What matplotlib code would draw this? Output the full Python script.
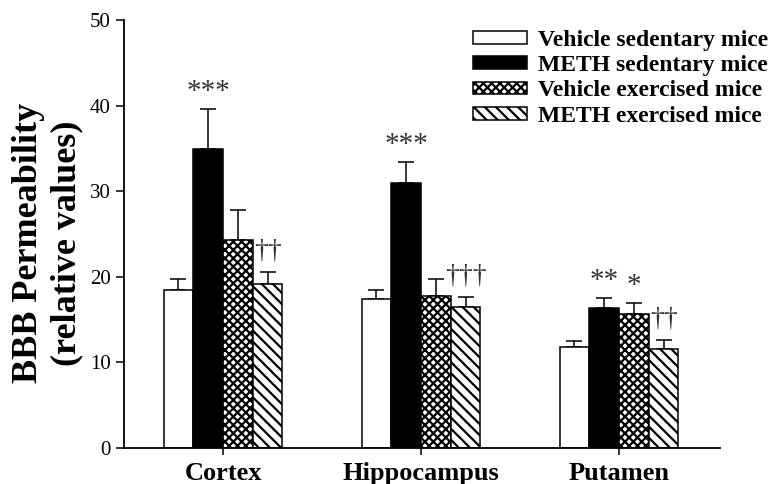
import numpy as np
import matplotlib
matplotlib.use('Agg')
import matplotlib.pyplot as plt

plt.rcParams['font.family'] = ['Liberation Serif', 'DejaVu Serif']
plt.rcParams['hatch.linewidth'] = 1.6

regions = ['Cortex', 'Hippocampus', 'Putamen']
groups = ['Vehicle sedentary mice', 'METH sedentary mice',
          'Vehicle exercised mice', 'METH exercised mice']

# mean values, one list per group (Cortex, Hippocampus, Putamen)
veh_sed = [18.5, 17.4, 11.8]
meth_sed = [34.9, 31.0, 16.3]
veh_ex = [24.3, 17.7, 15.6]
meth_ex = [19.2, 16.5, 11.6]

# SEM (upper error only)
veh_sed_err = [1.3, 1.0, 0.7]
meth_sed_err = [4.7, 2.4, 1.2]
veh_ex_err = [3.5, 2.1, 1.3]
meth_ex_err = [1.4, 1.1, 1.0]

# significance marks
veh_sed_sig = ['', '', '']
meth_sed_sig = ['***', '***', '**']
veh_ex_sig = ['', '', '*']
meth_ex_sig = ['\u2020\u2020', '\u2020\u2020\u2020', '\u2020\u2020']

means = [veh_sed, meth_sed, veh_ex, meth_ex]
errs = [veh_sed_err, meth_sed_err, veh_ex_err, meth_ex_err]
sigs = [veh_sed_sig, meth_sed_sig, veh_ex_sig, meth_ex_sig]
faces = ['white', 'black', 'white', 'white']
hatches = [None, None, 'xxxx', '\\\\\\']

fig = plt.figure(figsize=(7.71, 4.84), dpi=100)
ax = fig.add_axes([124 / 771, 36 / 484, 596 / 771, 428 / 484])

x = np.arange(len(regions))
w = 0.15
for i in range(4):
    pos = x + (i - 1.5) * w
    ax.bar(pos, means[i], w, color=faces[i], edgecolor='black',
           linewidth=1.1, hatch=hatches[i], label=groups[i], zorder=2)
    ax.errorbar(pos, means[i], yerr=[np.zeros(3), errs[i]], fmt='none',
                ecolor='black', elinewidth=1.1, capsize=6, capthick=1.1,
                zorder=1)
    for j in range(3):
        s = sigs[i][j]
        if not s:
            continue
        top = means[i][j] + errs[i][j]
        if '*' in s:
            ax.text(pos[j], top + 0.5, s, ha='center', va='bottom',
                    fontsize=21, color='#333333')
        else:
            ax.text(pos[j], top + 1.0, s, ha='center', va='bottom',
                    fontsize=20, color='#333333')

ax.set_xlim(-0.5, 2.51)
ax.set_ylim(0, 50)
ax.set_yticks([0, 10, 20, 30, 40, 50])
ax.set_xticks(x)
ax.set_xticklabels(regions, fontsize=19, fontweight='bold')
ax.tick_params(axis='y', labelsize=15, length=6, width=1.1, direction='out')
ax.tick_params(axis='x', length=5, width=1.1, direction='out', pad=5)
for s in ['top', 'right']:
    ax.spines[s].set_visible(False)
for s in ['left', 'bottom']:
    ax.spines[s].set_linewidth(1.3)

fig.text(48 / 771, 1 - 243 / 484, 'BBB Permeability\n(relative values)',
         rotation=90, ha='center', va='center', fontsize=26,
         fontweight='bold', linespacing=1.2, multialignment='center')

leg = ax.legend(loc='upper left', bbox_to_anchor=(473 / 771, 1 - 30 / 484),
                bbox_transform=fig.transFigure, frameon=False,
                prop={'size': 17, 'weight': 'bold'}, borderpad=0,
                borderaxespad=0, handlelength=2.3, handleheight=0.45,
                handletextpad=0.45, labelspacing=0.18)

fig.savefig('out.png', dpi=100)
